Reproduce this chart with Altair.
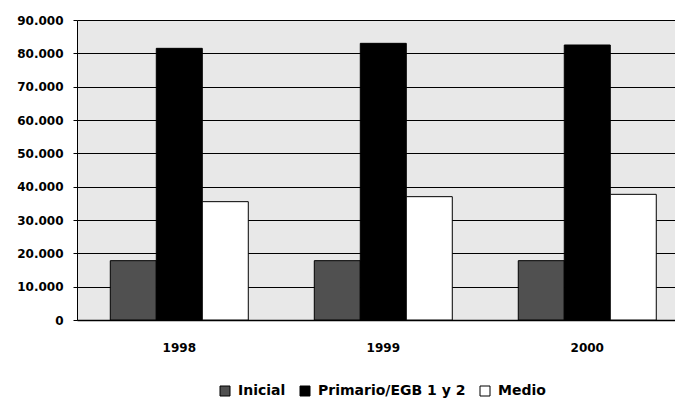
import altair as alt
import pandas as pd

years = ["1998", "1999", "2000"]
levels = ["Inicial", "Primario/EGB 1 y 2", "Medio"]
inicial = [17800, 17800, 17800]
primario = [81500, 83000, 82500]
medio = [35500, 37000, 37700]

rows = []
for i, y in enumerate(years):
    rows.append({"year": y, "level": levels[0], "value": inicial[i]})
    rows.append({"year": y, "level": levels[1], "value": primario[i]})
    rows.append({"year": y, "level": levels[2], "value": medio[i]})
df = pd.DataFrame(rows)

font = "DejaVu Sans"

bars = alt.Chart(df).mark_bar(stroke="black", strokeWidth=1).encode(
    x=alt.X("year:N", sort=years, title=None,
            scale=alt.Scale(paddingInner=0.3235, paddingOuter=0.1275, align=0.64),
            axis=alt.Axis(labelAngle=0, labelFont=font, labelFontSize=12,
                          labelFontWeight="bold",
                          labelColor="black", ticks=False, domainColor="black",
                          domainWidth=1.5, labelPadding=22)),
    xOffset=alt.XOffset("level:N", sort=levels),
    y=alt.Y("value:Q", title=None,
            scale=alt.Scale(domain=[0, 90000], nice=False),
            axis=alt.Axis(values=list(range(0, 90001, 10000)),
                          labelExpr="replace(format(datum.value, ','), ',', '.')",
                          labelFont=font, labelFontSize=12, labelFontWeight="bold",
                          labelColor="black",
                          grid=True, gridColor="black", gridWidth=1.2,
                          domainColor="black", tickColor="black", tickSize=4,
                          labelPadding=10)),
    color=alt.Color("level:N", sort=levels,
                    scale=alt.Scale(domain=levels, range=["#505050", "#000000", "#ffffff"]),
                    legend=alt.Legend(title=None, orient="none", direction="horizontal",
                                      legendX=141, legendY=364,
                                      symbolType="square", symbolSize=100,
                                      symbolStrokeColor="black", symbolStrokeWidth=1,
                                      labelFont=font, labelFontSize=14, labelFontWeight="bold",
                                      labelColor="black",
                                      columnPadding=12, labelOffset=6)),
)

chart = bars.properties(
    width=598, height=300,
    autosize=alt.AutoSizeParams(type="none"),
    padding={"left": 69, "top": 12, "right": 0, "bottom": 80},
).configure_view(fill="#e8e8e8", stroke=None)

chart.save("out.html", embed_options={"renderer": "svg", "actions": False})
